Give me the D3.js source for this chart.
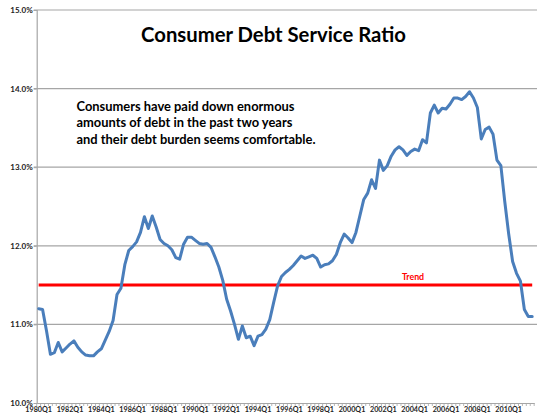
<!DOCTYPE html>
<html><head><meta charset="utf-8">
<script src="https://cdn.jsdelivr.net/npm/d3@7"></script>
<style>html,body{margin:0;padding:0;background:#fff;}svg{display:block;}</style>
</head><body>
<script>
// Quarterly categories 1980Q1 .. 2011Q3
const startYear = 1980, numQuarters = 127;
const categories = [];
for (let i = 0; i < numQuarters; i++) categories.push((startYear + Math.floor(i / 4)) + "Q" + (i % 4 + 1));

// Consumer debt service ratio (%)
const ratio = [
  11.20, 11.19, 10.92, 10.62, 10.64, 10.77, 10.65, 10.70, 10.75, 10.79,
  10.71, 10.65, 10.61, 10.60, 10.60, 10.65, 10.69, 10.80, 10.91, 11.05,
  11.38, 11.46, 11.76, 11.94, 11.99, 12.05, 12.17, 12.37, 12.22, 12.38,
  12.24, 12.08, 12.03, 12.00, 11.95, 11.85, 11.83, 12.02, 12.11, 12.11,
  12.07, 12.03, 12.02, 12.03, 11.98, 11.86, 11.73, 11.56, 11.32, 11.17,
  11.00, 10.81, 10.98, 10.83, 10.85, 10.73, 10.85, 10.87, 10.94, 11.06,
  11.28, 11.49, 11.61, 11.66, 11.70, 11.75, 11.81, 11.87, 11.84, 11.86,
  11.88, 11.84, 11.73, 11.76, 11.77, 11.81, 11.89, 12.04, 12.15, 12.10,
  12.04, 12.17, 12.38, 12.59, 12.67, 12.84, 12.73, 13.09, 12.96, 13.02,
  13.14, 13.22, 13.26, 13.22, 13.15, 13.20, 13.23, 13.21, 13.35, 13.31,
  13.69, 13.79, 13.69, 13.75, 13.74, 13.80, 13.88, 13.88, 13.86, 13.90,
  13.96, 13.88, 13.76, 13.36, 13.48, 13.51, 13.42, 13.09, 13.02, 12.56,
  12.15, 11.80, 11.65, 11.55, 11.19, 11.10, 11.10
];
const trendValue = 11.5;
const yTicks = [10, 11, 12, 13, 14, 15];
const xLabelEvery = 8;
const titleText = "Consumer Debt Service Ratio";
const noteLines = [
  "Consumers have paid down enormous",
  "amounts of debt in the past two years",
  "and their debt burden seems comfortable."
];
const trendLabel = "Trend";

const W = 537, H = 415;
const plotLeft = 36.7, plotTop = 10, plotBottom = 403;
const step = 3.917;
const svg = d3.select("body").append("svg").attr("width", W).attr("height", H);

const x = d3.scaleBand().domain(categories).range([plotLeft, plotLeft + step * categories.length]).padding(0);
const y = d3.scaleLinear().domain([10, 15]).range([plotBottom, plotTop]);
const cx = c => x(c) + x.bandwidth() / 2;
const FONT = "Lato, 'Open Sans', sans-serif";

// gridlines
svg.append("g").selectAll("line").data(yTicks.filter(d => d > 10)).join("line")
  .attr("x1", plotLeft - 3).attr("x2", W).attr("y1", d => y(d)).attr("y2", d => y(d))
  .attr("stroke", "#a6a6a6").attr("stroke-width", 1.2);

// y axis
const yAxis = d3.axisLeft(y).tickValues(yTicks).tickSize(3).tickFormat(d => d3.format(".1f")(d) + "%");
const gy = svg.append("g").attr("transform", `translate(${plotLeft},0)`).call(yAxis);
gy.select(".domain").attr("stroke", "#a6a6a6").attr("stroke-width", 1.2);
gy.selectAll(".tick line").attr("stroke", "#a6a6a6");
gy.selectAll(".tick text").attr("font-family", FONT).attr("font-size", 8)
  .attr("font-weight", "bold").attr("fill", "#222").attr("x", -4);

// x axis
const xAxis = d3.axisBottom(x).tickValues(categories.filter((c, i) => i % xLabelEvery === 0)).tickSize(0).tickPadding(4);
const gx = svg.append("g").attr("transform", `translate(0,${plotBottom})`).call(xAxis);
gx.select(".domain").attr("stroke", "#a6a6a6").attr("stroke-width", 1.2);
gx.selectAll(".tick text").attr("font-family", FONT).attr("font-size", 7.2)
  .attr("font-weight", "bold").attr("fill", "#222");
// minor ticks at category boundaries
gx.append("g").selectAll("line").data(categories.concat([null])).join("line")
  .attr("x1", (d, i) => plotLeft + i * x.step()).attr("x2", (d, i) => plotLeft + i * x.step())
  .attr("y1", 0).attr("y2", 3).attr("stroke", "#a6a6a6").attr("stroke-width", 0.8);

// trend line
svg.append("line")
  .attr("x1", cx(categories[0])).attr("x2", cx(categories[categories.length - 1]))
  .attr("y1", y(trendValue)).attr("y2", y(trendValue))
  .attr("stroke", "#ff0000").attr("stroke-width", 3);

svg.append("text").attr("x", 413).attr("y", y(trendValue) - 5).attr("text-anchor", "middle")
  .attr("font-family", FONT).attr("font-size", 8.8).attr("font-weight", "bold")
  .attr("fill", "#ff0000").text(trendLabel);

// data line
const line = d3.line().x((d, i) => cx(categories[i])).y(d => y(d));
svg.append("path").datum(ratio).attr("d", line).attr("fill", "none")
  .attr("stroke", "#4a7ebb").attr("stroke-width", 3).attr("stroke-linejoin", "round").attr("stroke-linecap", "round");

// title
svg.append("text").attr("x", 273.5).attr("y", 42).attr("text-anchor", "middle")
  .attr("font-family", FONT).attr("font-size", 20.3).attr("font-weight", "bold")
  .attr("fill", "#000").text(titleText);

// note
svg.append("g").selectAll("text").data(noteLines).join("text")
  .attr("x", 76.5).attr("y", (d, i) => 110.5 + i * 16.7)
  .attr("font-family", FONT).attr("font-size", 12.9).attr("font-weight", "bold")
  .attr("fill", "#000").text(d => d);
</script>
</body></html>
